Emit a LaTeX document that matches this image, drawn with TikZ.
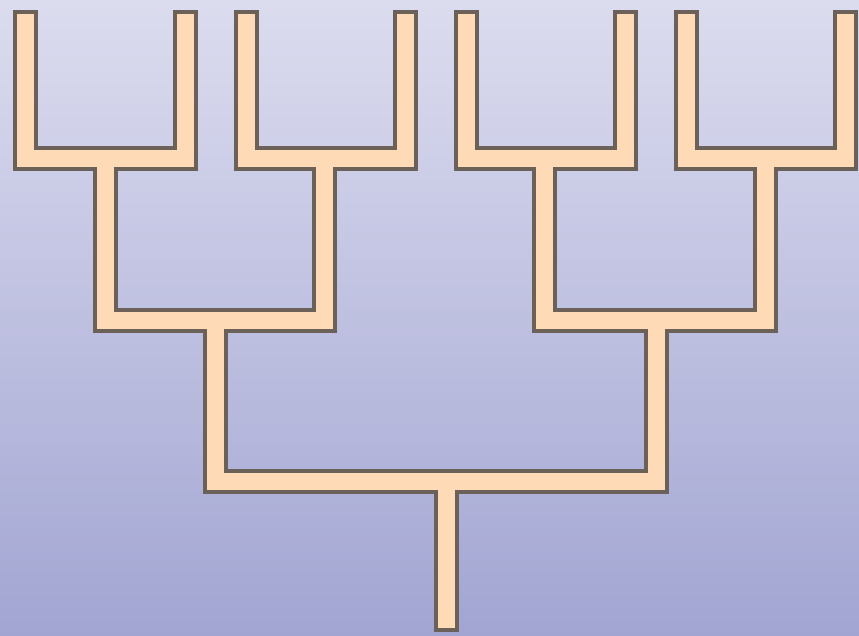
\documentclass[tikz,border=0pt]{standalone}
\definecolor{bgtop}{RGB}{220,220,239}
\definecolor{bgbot}{RGB}{162,165,210}
\definecolor{pipeedge}{RGB}{108,97,88}
\definecolor{pipefill}{RGB}{255,218,183}
\tikzset{
  pipeouter/.style={draw=pipeedge, line width=25pt, line cap=rect, line join=miter},
  pipeinner/.style={draw=pipefill, line width=17pt, line cap=rect, line join=miter},
}
\begin{document}
\begin{tikzpicture}[x=1pt,y=-1pt]
\useasboundingbox (0,0) rectangle (859,636);
\shade[top color=bgtop, bottom color=bgbot] (0,0) rectangle (859,636);
% leaves
\foreach \n/\x in {a/25.5,b/185,c/246,d/405,e/466,f/625,g/686,h/845}{
  \coordinate (leaf\n) at (\x,22.5);
}
\coordinate (root) at (446,619.5);
\def\treepath{
  (leafa) -- (leafa |- 0,159) -- (leafb |- 0,159) -- (leafb)
  (leafc) -- (leafc |- 0,159) -- (leafd |- 0,159) -- (leafd)
  (leafe) -- (leafe |- 0,159) -- (leaff |- 0,159) -- (leaff)
  (leafg) -- (leafg |- 0,159) -- (leafh |- 0,159) -- (leafh)
  (105,159) -- (105,320) -- (324,320) -- (324,159)
  (544,159) -- (544,320) -- (765,320) -- (765,159)
  (215,320) -- (215,481) -- (656,481) -- (656,320)
  (root |- 0,481) -- (root)
}
\draw[pipeouter] \treepath;
\draw[pipeinner] \treepath;
\end{tikzpicture}
\end{document}
